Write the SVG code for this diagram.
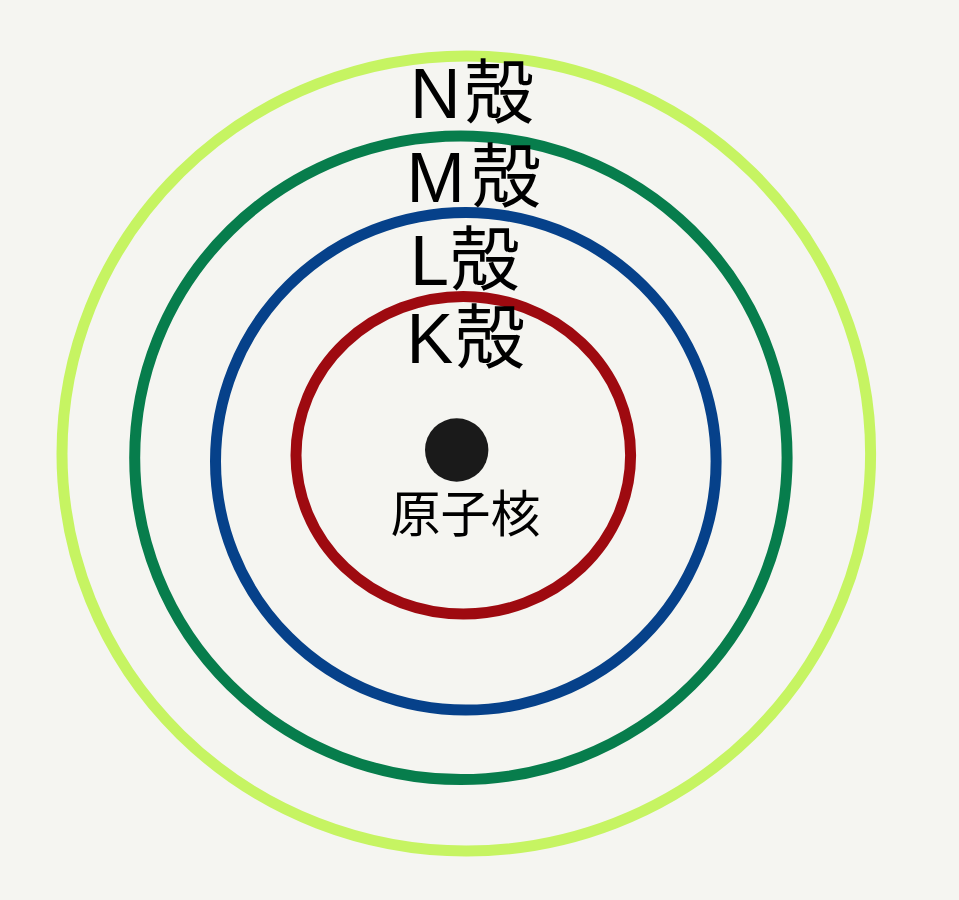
<svg xmlns="http://www.w3.org/2000/svg" width="959" height="900" viewBox="0 0 959 900">
<style>
.shell{fill:none;stroke-width:11}
.lbl{font-family:"Liberation Sans","Noto Sans CJK JP",sans-serif;font-size:70px;fill:#000}
.cjk{font-family:"Noto Sans CJK JP",sans-serif}
</style>
<rect width="959" height="900" fill="#f5f5f1"/>
<g id="shell-N"><ellipse class="shell" cx="466.3" cy="453.5" rx="404.3" ry="397.5" stroke="#c6f462"/></g>
<g id="shell-M"><ellipse class="shell" cx="460.9" cy="457.8" rx="326.2" ry="321.8" stroke="#077d4c"/></g>
<g id="shell-L"><ellipse class="shell" cx="465.8" cy="461.3" rx="250.3" ry="248.8" stroke="#06418a"/></g>
<g id="shell-K"><ellipse class="shell" cx="463.3" cy="455.3" rx="167.3" ry="158.8" stroke="#9e0a10"/></g>
<g id="nucleus">
<circle cx="456.7" cy="450" r="31.7" fill="#1a1a1a"/>
<text x="390.5" y="532" font-family="Noto Sans CJK JP, sans-serif" font-size="50" fill="#000">原子核</text>
</g>
<g id="label-N"><text class="lbl" y="118"><tspan x="410">N</tspan><tspan class="cjk" x="464">殻</tspan></text></g>
<g id="label-M"><text class="lbl" y="202"><tspan x="406.5">M</tspan><tspan class="cjk" x="471">殻</tspan></text></g>
<g id="label-L"><text class="lbl" y="285"><tspan x="410">L</tspan><tspan class="cjk" x="449.7">殻</tspan></text></g>
<g id="label-K"><text class="lbl" y="363"><tspan x="406.5">K</tspan><tspan class="cjk" x="455">殻</tspan></text></g>
<g id="connectors"></g>
</svg>
